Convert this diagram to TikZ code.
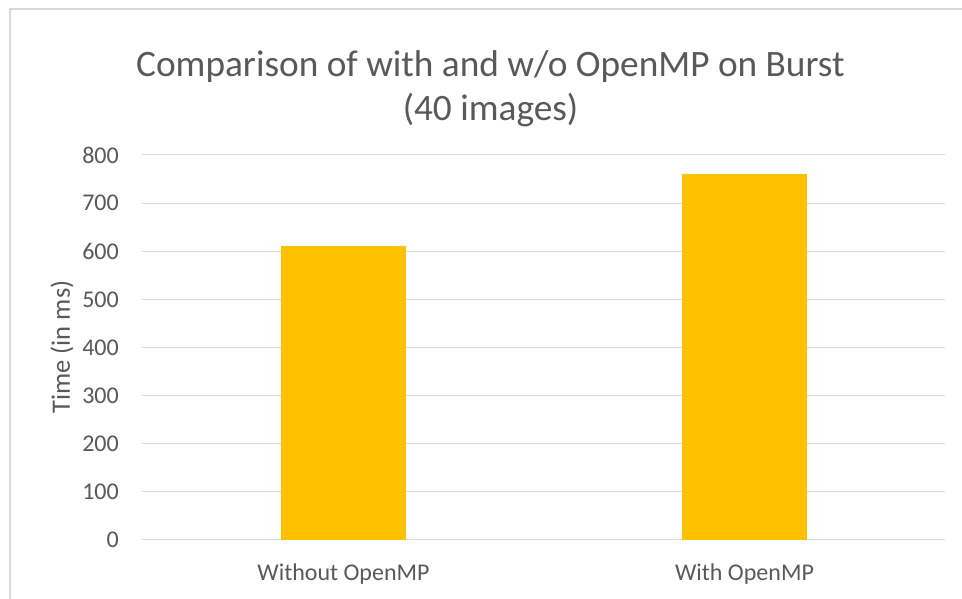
\documentclass[tikz,border=0pt]{standalone}
\usepackage{fontspec}
\setmainfont{Carlito}
\usepackage{tikz}
\definecolor{textgray}{HTML}{595959}
\definecolor{gridgray}{HTML}{D9D9D9}
\definecolor{framegray}{HTML}{D9D9D9}
\definecolor{barorange}{HTML}{FFC000}

\begin{document}
\begin{tikzpicture}[
  x=1pt, y=1pt,
  every node/.style={text=textgray, inner sep=0pt},
  grid/.style={draw=gridgray, line width=1pt},
  bar/.style={fill=barorange, draw=none},
  tick/.style={font=\fontsize{24}{28}\selectfont, anchor=east},
  cat/.style={font=\fontsize{24}{28}\selectfont},
  axttl/.style={font=\fontsize{26.5}{30}\selectfont},
  ttl/.style={font=\fontsize{37.3}{44}\selectfont, align=center},
]
  \clip (0,0) rectangle (962,599);
  \fill[white] (0,0) rectangle (962,599);
  % chart frame
  \draw[framegray, line width=2pt] (10,-10) rectangle (980,590);

  % gridlines and tick labels
  \foreach \v in {0,100,...,800} {
    \draw[grid] (142,{59+\v*0.48125}) -- (945,{59+\v*0.48125});
    \node[tick] (t\v) at (119,{59+\v*0.48125}) {\v};
  }

  % bars
  \fill[bar] (281,59) rectangle (406,{59+610*0.48125});
  \fill[bar] (682,59) rectangle (807,{59+760*0.48125});

  % labels
  \node[cat] (c1) at (343.5,25) {Without OpenMP};
  \node[cat] (c2) at (744.5,25) {With OpenMP};
  \node[axttl, rotate=90] (ylab) at (62,252) {Time (in ms)};
  \node[ttl] (title) at (490.5,510) {Comparison of with and w/o OpenMP on Burst\\(40 images)};
\end{tikzpicture}
\end{document}
